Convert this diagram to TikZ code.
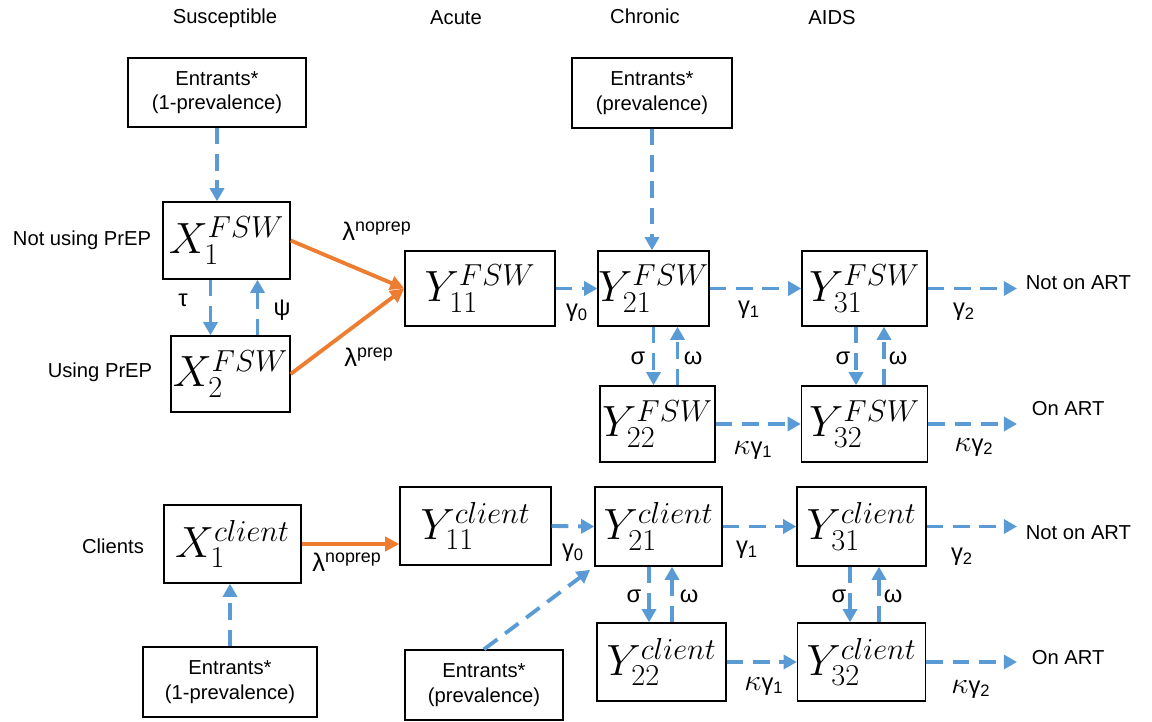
\documentclass[tikz,border=0pt]{standalone}
\usepackage{amsmath}
\usepackage[no-math]{fontspec}
\setmainfont{Liberation Sans}
\usepackage{tikz}
\usetikzlibrary{arrows.meta, calc}
\definecolor{PPT_Blue}{HTML}{5B9BD5}
\definecolor{PPT_Orange}{HTML}{ED7D31}
\newcommand{\px}{0.02cm}
\newcommand{\kap}{{\fontsize{18}{18}\selectfont$\kappa$}}
\tikzset{
    comp/.style 2 args={draw, line width=0.8pt, minimum width=#1*\px, minimum height=#2*\px, inner sep=0pt, font=\fontsize{25}{28}\selectfont},
    entr/.style 2 args={draw, line width=0.8pt, minimum width=#1*\px, minimum height=#2*\px, align=center, font=\fontsize{11.5}{14}\selectfont},
    lbl/.style={font=\fontsize{11.5}{14}\selectfont, inner sep=2pt},
    rate/.style={font=\fontsize{13.5}{14}\selectfont, inner sep=2pt},
    lam/.style={font=\fontsize{14.5}{15}\selectfont, inner sep=2pt},
    flow/.style={PPT_Blue, line width=2.2pt, dash pattern=on 9.5pt off 5.5pt, -{Triangle[length=7.5pt,width=8pt]}},
    inf/.style={PPT_Orange, line width=2.2pt, -{Triangle[length=8pt,width=8pt]}},
}

\begin{document}
\begin{tikzpicture}[x=0.02cm, y=-0.02cm]
    \useasboundingbox (0,0) rectangle (1152,722);
    % Headers
    \node[lbl] (hSus) at (225,18) {Susceptible};
    \node[lbl] (hAcu) at (456,18) {Acute};
    \node[lbl] (hChr) at (645,16) {Chronic};
    \node[lbl] (hAid) at (832,18) {AIDS};

    % FSW compartments
    \node[entr={178}{69}] (E1) at (217,92.5) {Entrants*\\(1-prevalence)};
    \node[entr={160}{70}] (E2) at (652,93) {Entrants*\\(prevalence)};
    \node[comp={127}{77}] (X1F) at (226.5,240.5) {$X_1^{FSW}$};
    \node[comp={119}{76}] (X2F) at (230.5,374) {$X_2^{FSW}$};
    \node[comp={150}{75}] (Y11F) at (480,288.5) {$Y_{11}^{FSW}$};
    \node[comp={107}{75}] (Y21F) at (653.5,288.5) {$Y_{21}^{FSW}$};
    \node[comp={125}{75}] (Y31F) at (864.5,288.5) {$Y_{31}^{FSW}$};
    \node[comp={115}{76}] (Y22F) at (657.5,424) {$Y_{22}^{FSW}$};
    \node[comp={126}{76}] (Y32F) at (864.5,424) {$Y_{32}^{FSW}$};

    % Client compartments
    \node[comp={137}{78}] (X1C) at (232.5,544) {$X_1^{client}$};
    \node[entr={174}{70}] (E3) at (230,682) {Entrants*\\(1-prevalence)};
    \node[entr={158}{70}] (E4) at (484,685) {Entrants*\\(prevalence)};
    \node[comp={151}{78}] (Y11C) at (475.5,526) {$Y_{11}^{client}$};
    \node[comp={127}{79}] (Y21C) at (658.5,526.5) {$Y_{21}^{client}$};
    \node[comp={129}{79}] (Y31C) at (861.5,526.5) {$Y_{31}^{client}$};
    \node[comp={129}{78}] (Y22C) at (661.5,662) {$Y_{22}^{client}$};
    \node[comp={128}{78}] (Y32C) at (861.5,662) {$Y_{32}^{client}$};

    % Side texts
    \node[lbl] (tNoPrep) at (82,240) {Not using PrEP};
    \node[lbl] (tPrep) at (100,372) {Using PrEP};
    \node[lbl] (tCli) at (113,546) {Clients};
    \node[lbl, anchor=west] (NA1) at (1022,283) {Not on ART};
    \node[lbl, anchor=west] (OA1) at (1028,409) {On ART};
    \node[lbl, anchor=west] (NA2) at (1022,533) {Not on ART};
    \node[lbl, anchor=west] (OA2) at (1028,658) {On ART};
    \coordinate (out) at (1017,0);

    % Inflow of entrants
    \draw[flow] (E1.south) -- (E1.south |- X1F.north);
    \draw[flow] (E2.south) -- (E2.south |- Y21F.north);
    \draw[flow] (E3.north) -- (E3.north |- X1C.south);
    \draw[flow, shorten >=3pt] (E4.north) -- (Y21C.south west);

    % PrEP uptake
    \draw[flow] ([xshift=-16*\px]X1F.south) -- ([xshift=-20*\px]X2F.north);
    \draw[flow] ([xshift=27*\px]X2F.north) -- ([xshift=31*\px]X1F.south);
    \node[rate] (lTau) at (183,300) {τ};
    \node[rate] (lPsi) at (282,310) {ψ};

    % Infection
    \draw[inf] (X1F.east) -- (Y11F.west);
    \draw[inf] (X2F.east) -- (Y11F.west);
    \draw[inf] (X1C.east) -- (X1C.east -| Y11C.west);
    \node[lam] (lNoF) at (377,231) {λ\textsuperscript{noprep}};
    \node[lam] (lPrF) at (369,357) {λ\textsuperscript{prep}};
    \node[lam] (lNoC) at (347,562) {λ\textsuperscript{noprep}};

    % FSW progression
    \draw[flow] (Y11F.east) -- (Y21F.west);
    \draw[flow] (Y21F.east) -- (Y31F.west);
    \draw[flow] (Y31F.east) -- (Y31F.east -| out);
    \draw[flow] (Y22F.east) -- (Y32F.west);
    \draw[flow] (Y32F.east) -- (Y32F.east -| out);
    \draw[flow] ([xshift=0*\px]Y21F.south) -- ([xshift=-4*\px]Y22F.north);
    \draw[flow] ([xshift=20*\px]Y22F.north) -- ([xshift=24*\px]Y21F.south);
    \draw[flow] ([xshift=-8.5*\px]Y31F.south) -- ([xshift=-8.5*\px]Y32F.north);
    \draw[flow] ([xshift=19.5*\px]Y32F.north) -- ([xshift=19.5*\px]Y31F.south);
    \node[rate] (g0F) at (577,313) {γ\textsubscript{0}};
    \node[rate] (g1F) at (749,310) {γ\textsubscript{1}};
    \node[rate] (g2F) at (964,312) {γ\textsubscript{2}};
    \node[rate] (kg1F) at (753,450) {\kap γ\textsubscript{1}};
    \node[rate] (kg2F) at (974,447) {\kap γ\textsubscript{2}};
    \node[rate] (s2F) at (638,358) {σ};
    \node[rate] (w2F) at (693,358) {ω};
    \node[rate] (s3F) at (843,358) {σ};
    \node[rate] (w3F) at (898,358) {ω};

    % Client progression
    \draw[flow] (Y11C.east) -- (Y21C.west);
    \draw[flow] (Y21C.east) -- (Y31C.west);
    \draw[flow] (Y31C.east) -- (Y31C.east -| out);
    \draw[flow] (Y22C.east) -- (Y32C.west);
    \draw[flow] (Y32C.east) -- (Y32C.east -| out);
    \draw[flow] ([xshift=-9.5*\px]Y21C.south) -- ([xshift=-12.5*\px]Y22C.north);
    \draw[flow] ([xshift=10.5*\px]Y22C.north) -- ([xshift=13.5*\px]Y21C.south);
    \draw[flow] ([xshift=-11.5*\px]Y31C.south) -- ([xshift=-11.5*\px]Y32C.north);
    \draw[flow] ([xshift=17.5*\px]Y32C.north) -- ([xshift=17.5*\px]Y31C.south);
    \node[rate] (g0C) at (573,553) {γ\textsubscript{0}};
    \node[rate] (g1C) at (747,550) {γ\textsubscript{1}};
    \node[rate] (g2C) at (962,557) {γ\textsubscript{2}};
    \node[rate] (kg1C) at (764,686) {\kap γ\textsubscript{1}};
    \node[rate] (kg2C) at (971,689) {\kap γ\textsubscript{2}};
    \node[rate] (s2C) at (634,596) {σ};
    \node[rate] (w2C) at (689,596) {ω};
    \node[rate] (s3C) at (839,596) {σ};
    \node[rate] (w3C) at (893,596) {ω};
\end{tikzpicture}
\end{document}
